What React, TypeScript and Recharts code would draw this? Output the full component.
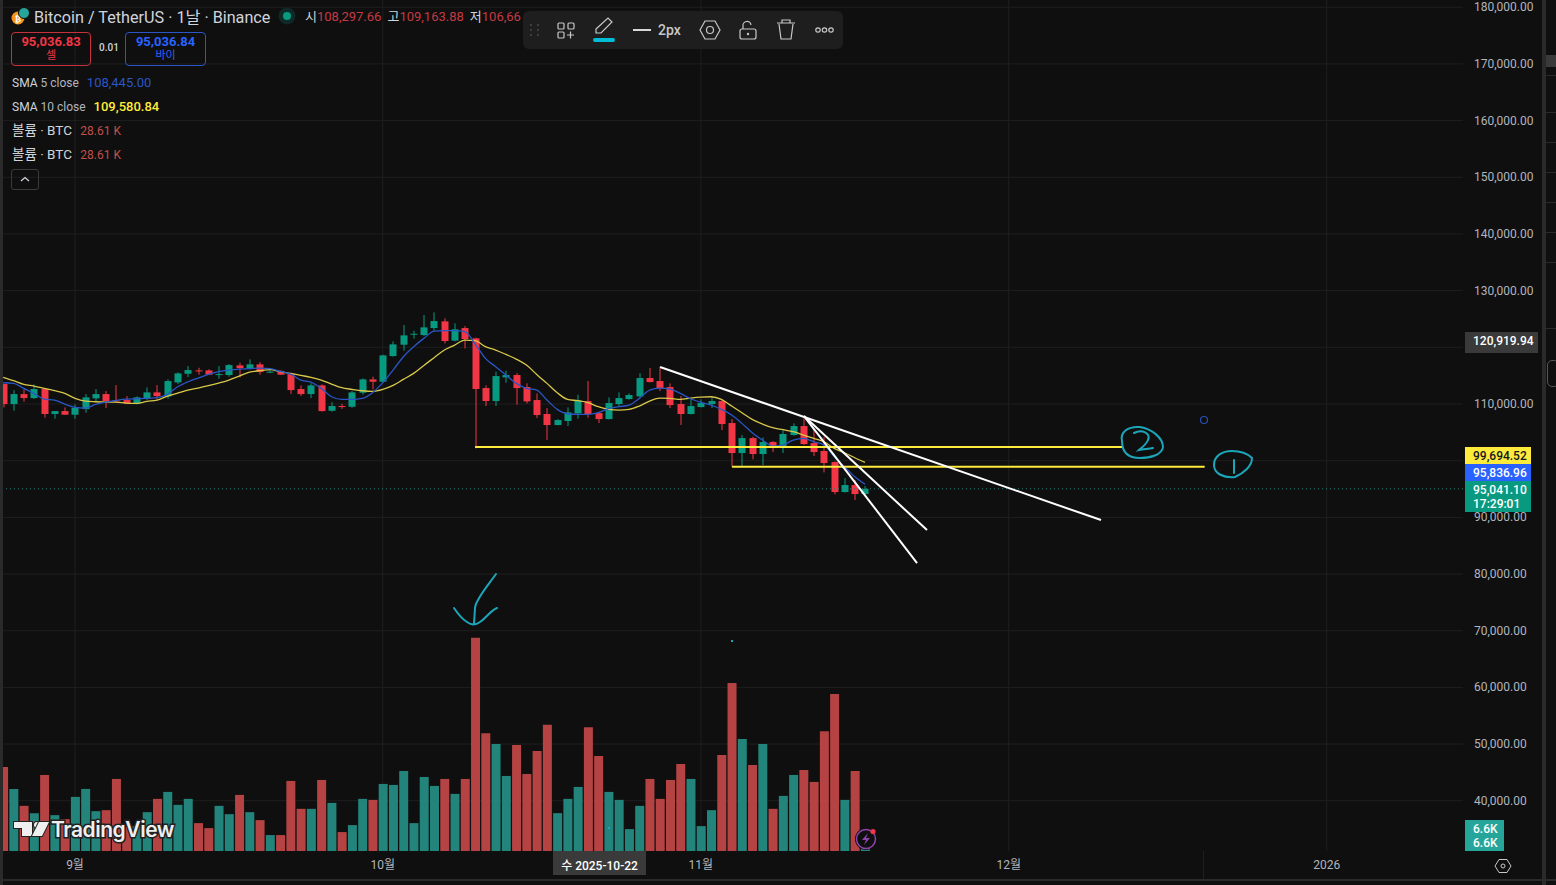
import { Bar, CartesianGrid, ComposedChart, Line, ReferenceLine, XAxis, YAxis } from "recharts";

// days counted from 1 Sep 2025
const days = [-7,-6,-5,-4,-3,-2,-1,0,1,2,3,4,5,6,7,8,9,10,11,12,13,14,15,16,17,18,19,20,21,22,23,24,25,26,27,28,29,30,31,32,33,34,35,36,37,38,39,40,41,42,43,44,45,46,47,48,49,50,51,52,53,54,55,56,57,58,59,60,61,62,63,64,65,66,67,68,69,70,71,72,73,74,75,76,77];
const opens = [113520,109990,111750,111050,112640,108230,108750,108110,109110,110990,111750,110640,110700,110050,110930,112050,111340,113810,115340,115930,115930,115110,115110,116810,116280,116990,115580,115700,115280,112640,111750,113280,108810,109640,109520,111990,114340,113930,118460,120460,122230,122170,123400,124580,121170,123400,121580,112810,110520,114700,115110,112990,110700,108230,106290,106990,108340,110520,108400,107340,109990,110870,111340,114580,114050,112990,109990,108230,109460,109990,110520,106640,101340,103990,101170,103290,102340,104520,106110,103110,101700,99760,94460,95700,94110];
const highs = [113600,112460,112580,113460,112750,108750,109400,109930,111750,112640,112280,113340,111400,111340,112930,113340,114340,115580,116700,116400,116110,116700,117050,117280,117870,117400,116280,115990,115520,113280,113640,113460,110340,110050,112340,114520,114810,118700,121050,123930,122930,125700,126170,125110,124230,123750,121700,113280,115700,115870,115460,113640,111870,109290,107340,109400,111640,114050,108640,111170,112050,111870,115460,116340,116520,113640,111400,110990,110810,111170,110700,107340,104520,104230,104110,103460,105400,106580,107460,105400,104230,99870,96930,96580,95520];
const lows = [109400,108810,110400,110870,107580,107400,108050,107400,108460,110400,109280,110230,109990,109930,110700,110810,110930,113520,114750,115170,115110,114460,114810,114700,116110,115170,115460,115110,111750,111400,111050,108640,108640,109110,109340,111640,112580,113750,118340,119400,121520,121990,122930,120700,121050,119810,102170,109640,109640,113760,109870,110110,107520,103640,106230,106110,107400,107580,106640,107280,109580,110760,111170,113810,112280,109290,106290,108170,109400,109290,105400,98930,99050,100230,99230,101520,101340,104400,102760,100820,97930,94050,94400,93050,93990];
const closes = [109990,111750,111050,112640,108230,108750,108110,109340,111170,111750,110520,110520,110050,111170,112050,111400,114050,115400,115990,115750,115170,115280,116870,116340,116990,115640,115700,115170,112460,111750,113280,108750,109640,109460,112050,114340,113930,118580,120520,122110,122400,123520,124640,121110,123170,121460,112640,110520,114930,115110,112810,110460,108050,106290,107170,108520,110640,108230,107340,110170,111050,111580,114580,113870,112760,109810,108230,109640,110170,110520,106460,101340,103990,101170,103290,102230,104700,106110,102930,101520,99580,94460,95700,94110,95041];
const sma5 = [113750,113640,112760,111870,110870,110700,109990,109400,109280,109930,110340,110640,110870,110930,110990,111110,111700,113050,113930,114580,115230,115700,115990,116170,116230,116340,116230,115750,115280,114230,113870,112760,111280,110810,110810,110990,111990,113760,115990,118340,120110,121580,122870,122930,122930,122750,120580,118050,116580,115110,113640,112760,112460,110700,109050,108280,108170,108170,108460,109170,109520,109810,110990,112460,112810,112640,111870,110930,110280,109810,109050,108050,106580,104930,103640,102580,102760,103640,103930,103340,102760,100690,98930,97170,95837];
const sma10 = [114700,114110,113460,113170,112760,112340,111870,110990,110520,110400,110340,110340,110170,110110,110460,110700,111400,111930,112460,112810,113230,113700,114230,114930,115640,115870,116050,115700,115400,115050,114700,114230,113520,112870,112580,112340,112230,112580,113280,114340,115400,116810,118170,119520,120400,121280,121170,120110,119520,118750,117930,116870,115220,113640,111990,110810,110580,110230,109520,109050,108930,109050,109640,110520,111050,110990,110810,111050,111220,111280,110810,109640,108460,107280,106460,105810,105460,105110,104520,103930,103340,102170,101400,100520,99695];
const volumes = [25.3,18.7,13.6,11.4,22.9,10.8,9.6,16.3,18.7,12.0,12.3,21.7,7.2,7.5,11.7,15.7,17.8,13.9,15.7,8.4,6.9,13.6,11.1,16.9,11.7,9.3,4.8,4.8,21.1,12.7,12.7,21.4,14.5,5.7,7.8,15.7,15.4,20.2,19.9,24.1,8.4,22.3,19.6,21.7,17.2,21.7,64.2,35.5,32.2,22.6,31.9,23.2,30.1,38.0,11.4,15.7,19.3,37.3,28.6,17.8,15.4,6.6,13.6,21.7,15.7,21.4,26.2,21.7,7.5,12.3,28.9,50.6,33.7,25.9,32.2,12.7,16.6,22.9,24.4,20.8,36.1,47.3,15.4,24.1,6.6];

const priceTicks = [40000,50000,60000,70000,80000,90000,100000,110000,120000,130000,140000,150000,160000,170000,180000];
// 100,000 and 120,000 sit behind the price tags
const labelledTicks = priceTicks.filter((p) => p !== 100000 && p !== 120000);
const dateTicks = [0,30,61,91,122];
const dateLabels = ["9월","10월","11월","12월","2026"];

const lastPrice = 95041.1;
const trendLines = [
  { x1: 57.02, y1: 116520, x2: 100, y2: 89520 },
  { x1: 71.05, y1: 107870, x2: 83.04, y2: 87750 },
  { x1: 71.05, y1: 107870, x2: 82.07, y2: 81930 },
];
const levelLines = [
  { x1: 38.99, x2: 102.05, y: 102400 },
  { x1: 64.04, x2: 110.1, y: 98930 },
];

const rows = days.map((day, i) => ({
  day,
  open: opens[i],
  high: highs[i],
  low: lows[i],
  close: closes[i],
  sma5: sma5[i],
  sma10: sma10[i],
  volUp: closes[i] >= opens[i] ? volumes[i] : null,
  volDown: closes[i] < opens[i] ? volumes[i] : null,
}));

const UP = "#089981";
const DOWN = "#f23645";
const GRID = "#1f1f1f";
const AXIS_TEXT = "#b2b5be";
const FONT = "Roboto, 'Noto Sans CJK KR', sans-serif";
const SKETCH = "#1ca6ba";

function Candle(props: any) {
  const { x, y, width, height, payload } = props;
  const { open, close, high, low } = payload;
  const perPrice = height / (high - low);
  const at = (p: number) => y + (high - p) * perPrice;
  const color = close >= open ? UP : DOWN;
  const top = at(Math.max(open, close));
  const bodyH = Math.max(1, Math.abs(at(open) - at(close)));
  const mid = Math.round(x + width / 2);
  return (
    <g>
      <rect x={mid - 0.5} y={y} width={1} height={height} fill={color} />
      <rect x={mid - 3.5} y={top} width={7} height={bodyH} fill={color} />
    </g>
  );
}

function DateTick(props: any) {
  const { x, y, payload } = props;
  return (
    <text x={x} y={y + 10} textAnchor="middle" fill={AXIS_TEXT} fontSize={12} fontFamily={FONT}>
      {dateLabels[dateTicks.indexOf(payload.value)]}
    </text>
  );
}

function PriceTick(props: any) {
  const { x, y, payload } = props;
  return (
    <text x={x + 3} y={y + 4} fill={AXIS_TEXT} fontSize={12} fontFamily={FONT}>
      {payload.value.toLocaleString("en-US", { minimumFractionDigits: 2 })}
    </text>
  );
}

const abs = (left: number, top: number, extra: any = {}): any => ({ position: "absolute", left, top, whiteSpace: "nowrap", ...extra });

function AxisTag({ top, height, width = 66, bg, color = "#fff", lines, left = 1465 }: any) {
  return (
    <div style={abs(left, top, { width, height, background: bg, color, fontSize: 12, lineHeight: "14px", padding: "2px 0 0 8px", boxSizing: "border-box", fontFamily: FONT, fontWeight: 500, overflow: "hidden" })}>
      {lines.map((t: string) => <div key={t}>{t}</div>)}
    </div>
  );
}

function Header() {
  const row = { fontSize: 12, color: "#b2b5be", fontFamily: FONT };
  return (
    <>
      <svg style={abs(11, 7)} width={22} height={20}>
        <circle cx={7} cy={11} r={6.5} fill="#f7931a" />
        <text x={7} y={14.5} textAnchor="middle" fontSize={9} fill="#fff" fontWeight={700}>₿</text>
        <circle cx={13} cy={6} r={5.5} fill="#26a69a" stroke="#0f0f0f" />
      </svg>
      <div style={abs(34, 4, { fontSize: 16.2, color: "#d1d4dc", fontFamily: FONT })}>Bitcoin / TetherUS · 1날 · Binance</div>
      <svg style={abs(278, 7)} width={20} height={20}>
        <circle cx={9} cy={9} r={8.5} fill="#0e2a26" />
        <circle cx={9} cy={9} r={4} fill="#089981" />
      </svg>
      <div style={abs(305, 6, { fontSize: 13, color: "#d1d4dc", fontFamily: FONT })}>
        시<span style={{ color: "#c43a44" }}>108,297.66</span>
        <span style={{ marginLeft: 6 }}>고</span><span style={{ color: "#c43a44" }}>109,163.88</span>
        <span style={{ marginLeft: 6 }}>저</span><span style={{ color: "#c43a44" }}>106,66</span>
      </div>

      <div style={abs(11, 32, { width: 80, height: 34, border: "1px solid #c8303c", borderRadius: 4, boxSizing: "border-box", textAlign: "center", fontFamily: FONT, color: "#f23645", fontSize: 13, lineHeight: "14px", paddingTop: 2 })}>
        <div style={{ fontWeight: 700 }}>95,036.83</div>
        <div style={{ fontSize: 11 }}>셀</div>
      </div>
      <div style={abs(99, 42, { ...row, fontSize: 10, color: "#d1d4dc", fontWeight: 500 })}>0.01</div>
      <div style={abs(125, 32, { width: 81, height: 34, border: "1px solid #2a56c6", borderRadius: 4, boxSizing: "border-box", textAlign: "center", fontFamily: FONT, color: "#2962ff", fontSize: 13, lineHeight: "14px", paddingTop: 2 })}>
        <div style={{ fontWeight: 700 }}>95,036.84</div>
        <div style={{ fontSize: 11 }}>바이</div>
      </div>

      <div style={abs(12, 75, row)}><span style={{ color: "#d1d4dc" }}>SMA</span> 5 close <span style={{ color: "#2a56c6", marginLeft: 5, fontSize: 13 }}>108,445.00</span></div>
      <div style={abs(12, 99, row)}><span style={{ color: "#d1d4dc" }}>SMA</span> 10 close <span style={{ color: "#ffeb3b", marginLeft: 5, fontWeight: 500, fontSize: 13 }}>109,580.84</span></div>
      <div style={abs(12, 119, { ...row, fontSize: 13.5, color: "#d1d4dc" })}>볼륨 · BTC <span style={{ color: "#c0504d", marginLeft: 5, fontSize: 12 }}>28.61 K</span></div>
      <div style={abs(12, 143, { ...row, fontSize: 13.5, color: "#d1d4dc" })}>볼륨 · BTC <span style={{ color: "#c0504d", marginLeft: 5, fontSize: 12 }}>28.61 K</span></div>
      <div style={abs(11, 169, { width: 28, height: 21, border: "1px solid #3a3a3a", borderRadius: 3, boxSizing: "border-box" })}>
        <svg width={26} height={19}><path d="M9 11 L13 7.5 L17 11" fill="none" stroke="#d1d4dc" strokeWidth={1.3} /></svg>
      </div>
    </>
  );
}

function Toolbar() {
  const s = { fill: "none", stroke: "#c8c8c8", strokeWidth: 1.2 };
  return (
    <div style={abs(523, 11, { width: 320, height: 38, background: "#1e1e1e", borderRadius: 6 })}>
      <svg width={320} height={38}>
        {[-5, 0, 5].flatMap((dy) => [8, 15].map((cx) => <circle key={`${cx}${dy}`} cx={cx} cy={19 + dy} r={1} fill="#4a4a4a" />))}
        <rect x={35} y={12} width={6} height={6} rx={1} {...s} />
        <rect x={45} y={12} width={6} height={6} rx={1} {...s} />
        <rect x={35} y={21} width={6} height={6} rx={1} {...s} />
        <path d="M44 24 h7 M47.5 20.5 v7" {...s} />
        <path d="M73 18 L85 7 L89 11 L78 22 L73 22 Z" {...s} />
        <rect x={70} y={27} width={22} height={4} rx={2} fill="#00bcd4" />
        <path d="M110 19 h18" stroke="#d8d8d8" strokeWidth={2} />
        <text x={135} y={24} fontSize={14} fontWeight={500} fill="#c8c8c8" fontFamily={FONT}>2px</text>
        <path d="M182 10 L192 10 L197 19 L192 28 L182 28 L177 19 Z" {...s} />
        <circle cx={187} cy={19} r={3.5} {...s} />
        <rect x={217} y={18} width={16} height={10} rx={2} {...s} />
        <path d="M220 18 v-3 a4 4 0 0 1 8 -1" {...s} />
        <circle cx={225} cy={23} r={1.2} fill="#c8c8c8" />
        <path d="M254 12 h18 M259 12 v-3 h8 v3 M256 13 L258 28 h10 L270 13" {...s} />
        <circle cx={295} cy={19} r={2.2} {...s} />
        <circle cx={301.5} cy={19} r={2.2} {...s} />
        <circle cx={308} cy={19} r={2.2} {...s} />
      </svg>
    </div>
  );
}

function Sketches() {
  const s = { fill: "none", stroke: SKETCH, strokeWidth: 2, strokeLinecap: "round" as const };
  return (
    <svg style={abs(0, 0, { pointerEvents: "none" })} width={1556} height={885}>
      <path d="M496 574 C488 585 482 592 478 600 C476 603 475 605 475 608 L474 624" {...s} />
      <path d="M454 608 C458 614 462 619 467 622 C471 625 476 625 480 622 C486 618 490 611 497 608" {...s} />
      <path d="M1122 441 C1120 432 1128 426 1140 427 C1152 429 1163 438 1163 447 C1162 455 1150 458 1140 458 C1128 458 1122 452 1122 441 Z" {...s} />
      <path d="M1134 433 C1142 429 1151 433 1148 440 C1146 445 1140 449 1139 450 C1143 449 1148 449 1153 448" {...s} />
      <path d="M1214 465 C1214 456 1222 451 1232 451 C1241 451 1248 454 1252 458 C1252 466 1244 473 1235 477 C1224 478 1214 474 1214 465 Z" {...s} />
      <path d="M1234 460 V473" {...s} />
      <circle cx={1204} cy={420} r={3.5} fill="none" stroke="#2a4fb5" strokeWidth={1.2} />
      <rect x={731} y={640} width={2} height={2} fill={SKETCH} />
      <rect x={608} y={827} width={2} height={2} fill={SKETCH} />
    </svg>
  );
}

function Watermark() {
  const halo = { fill: "#efefef", stroke: "#222", strokeWidth: 2, paintOrder: "stroke" };
  return (
    <>
      <svg style={abs(12, 819)} width={40} height={22}>
        <path d="M2 3 H20 V17 H10 V9 H2 Z" {...halo} />
        <circle cx={25} cy={6} r={3} {...halo} />
        <path d="M27 3 H37 L30 17 H20 Z" {...halo} />
      </svg>
      <div style={abs(51, 817, { fontSize: 21, fontWeight: 600, color: "#efefef", fontFamily: "Inter, sans-serif", letterSpacing: -0.45, WebkitTextStroke: "3px #222", paintOrder: "stroke fill" })}>TradingView</div>
      <svg style={abs(855, 828)} width={22} height={23}>
        <circle cx={11} cy={11} r={11} fill="#0f0f0f" />
        <circle cx={11} cy={11} r={9.5} fill="none" stroke="#8e44ad" strokeWidth={1.5} />
        <path d="M13 5 L7 12 H11 L9 17 L15 10 H11 Z" fill="#8e44ad" />
        <circle cx={18} cy={3.5} r={2.6} fill="#f23645" />
      </svg>
    </>
  );
}

function SideStrip() {
  const marks = [75, 112, 142, 172, 202, 232, 262, 328];
  return (
    <>
      <div style={abs(1542, 0, { width: 4, height: 885, background: "#2a2a2a" })} />
      <div style={abs(1546, 55, { width: 10, height: 12, background: "#3a3a3a" })} />
      {marks.map((y) => <div key={y} style={abs(1546, y, { width: 10, height: 1, background: "#2a2a2a" })} />)}
      <div style={abs(1547, 360, { width: 12, height: 27, border: "1px solid #555", borderRadius: 5, boxSizing: "border-box" })} />
    </>
  );
}

export default function App() {
  return (
    <div style={{ position: "fixed", left: 0, top: 0, width: 1556, height: 885, background: "#0f0f0f", overflow: "hidden" }}>
      <ComposedChart width={1556} height={885} data={rows} margin={{ top: 0, right: 0, bottom: 0, left: 3 }}>
        <CartesianGrid stroke={GRID} xAxisId="main" yAxisId="price" horizontalValues={priceTicks} verticalValues={dateTicks} />
        <XAxis xAxisId="main" dataKey="day" type="number" domain={[-7.02, 135.28]} allowDataOverflow ticks={dateTicks} interval={0} tick={<DateTick />} tickLine={false} axisLine={false} height={34} />
        <XAxis xAxisId="vol" dataKey="day" type="number" domain={[-7.02, 135.28]} allowDataOverflow hide />
        <YAxis yAxisId="price" orientation="right" type="number" domain={[31129, 181283]} allowDataOverflow ticks={labelledTicks} interval={0} width={93} tickLine={false} axisLine={false} tick={<PriceTick />} />
        <YAxis yAxisId="volume" hide domain={[0, 256.3]} allowDataOverflow />

        <Bar xAxisId="vol" yAxisId="volume" dataKey="volUp" stackId="v" fill="#22847a" barSize={9} isAnimationActive={false} />
        <Bar xAxisId="vol" yAxisId="volume" dataKey="volDown" stackId="v" fill="#b54343" barSize={9} isAnimationActive={false} />

        <ReferenceLine xAxisId="main" yAxisId="price" y={lastPrice} stroke="#2a7f75" strokeDasharray="1 3" />
        <Bar xAxisId="main" yAxisId="price" dataKey={(d: any) => [d.low, d.high]} barSize={9} shape={<Candle />} isAnimationActive={false} />
        <Line xAxisId="main" yAxisId="price" dataKey="sma10" type="monotone" stroke="#d8c84a" strokeWidth={1.3} dot={false} activeDot={false} isAnimationActive={false} />
        <Line xAxisId="main" yAxisId="price" dataKey="sma5" type="monotone" stroke="#2a56c6" strokeWidth={1.3} dot={false} activeDot={false} isAnimationActive={false} />

        {levelLines.map((l) => (
          <ReferenceLine key={l.x1} xAxisId="main" yAxisId="price" segment={[{ x: l.x1, y: l.y }, { x: l.x2, y: l.y }]} stroke="#ffeb3b" strokeWidth={2} />
        ))}
        {trendLines.map((l) => (
          <ReferenceLine key={l.x2} xAxisId="main" yAxisId="price" segment={[{ x: l.x1, y: l.y1 }, { x: l.x2, y: l.y2 }]} stroke="#ffffff" strokeWidth={2} />
        ))}
      </ComposedChart>

      <Sketches />
      <Watermark />
      <Header />
      <Toolbar />

      <AxisTag left={1465} top={332} width={73} height={21} bg="#3a3a3a" lines={["120,919.94"]} />
      <AxisTag top={447} height={17} bg="#ffeb3b" color="#131722" lines={["99,694.52"]} />
      <AxisTag top={464} height={17} bg="#2962ff" lines={["95,836.96"]} />
      <AxisTag top={481} height={31} bg="#089981" lines={["95,041.10", "17:29:01"]} />
      <AxisTag top={820} height={31} width={39} bg="#26a69a" lines={["6.6K", "6.6K"]} />

      <div style={abs(553, 851, { width: 93, height: 24, background: "#3a3a3a", color: "#fff", fontSize: 12, fontWeight: 500, lineHeight: "30px", textAlign: "center", fontFamily: FONT })}>수 2025-10-22</div>
      <svg style={abs(1494, 857)} width={18} height={18}>
        <path d="M5 2.5 H13 L17 9 L13 15.5 H5 L1 9 Z" fill="none" stroke="#c8c8c8" strokeWidth={1} />
        <circle cx={9} cy={9} r={2} fill="none" stroke="#c8c8c8" />
      </svg>

      <div style={abs(0, 0, { width: 3, height: 885, background: "#2a2a2a" })} />
      <div style={abs(0, 879, { width: 1556, height: 2, background: "#2a2a2a" })} />
      <SideStrip />
      <div style={abs(1203, 851, { width: 1, height: 28, background: GRID })} />
    </div>
  );
}
